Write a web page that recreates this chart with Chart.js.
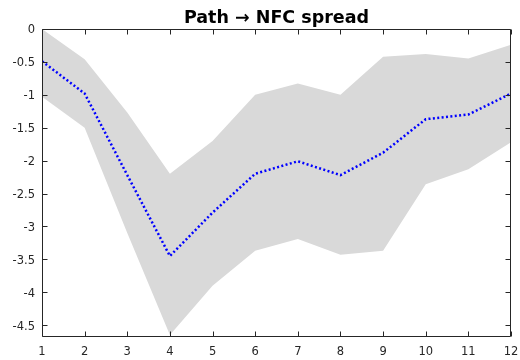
<!DOCTYPE html>
<html>
<head>
<meta charset="utf-8">
<script src="https://cdn.jsdelivr.net/npm/chart.js@4.4.1/dist/chart.umd.min.js"></script>
<style>
  html, body { margin: 0; padding: 0; background: #ffffff; }
  #wrap { width: 520px; height: 360px; }
</style>
</head>
<body>
<div id="wrap"><canvas id="c" width="520" height="360"></canvas></div>
<script>
// Horizon (periods after the shock)
const horizons = [1, 2, 3, 4, 5, 6, 7, 8, 9, 10, 11, 12];
// Median response
const medianResp = [-0.49, -0.98, -2.22, -3.45, -2.79, -2.20, -2.01, -2.22, -1.88, -1.37, -1.30, -0.98];
// Credible band bounds
const upperBand = [0.00, -0.46, -1.27, -2.20, -1.70, -1.00, -0.83, -1.00, -0.42, -0.38, -0.45, -0.24];
const lowerBand = [-1.03, -1.50, -3.10, -4.65, -3.90, -3.37, -3.19, -3.43, -3.37, -2.36, -2.13, -1.72];
// Axis tick labels
const xTickValues = [1, 2, 3, 4, 5, 6, 7, 8, 9, 10, 11, 12];
const yTickValues = [0, -0.5, -1, -1.5, -2, -2.5, -3, -3.5, -4, -4.5];
const chartTitle = 'Path \u2192 NFC spread';

const pts = (ys) => horizons.map((h, i) => ({ x: h, y: ys[i] }));
const AXIS_COLOR = '#262626';
const TICK_FONT = { family: 'DejaVu Sans, Verdana, sans-serif', size: 11.5 };

// Box around the plot area with short inward ticks on every side,
// plus the title centred over the plot area
const frameTicks = {
  id: 'frameTicks',
  afterDraw(chart) {
    const ctx = chart.ctx;
    const a = chart.chartArea;
    const xs = chart.scales.x;
    const ys = chart.scales.y;
    const len = 5;
    const L = Math.round(a.left) + 0.5, R = Math.round(a.right) - 0.5;
    const T = Math.round(a.top) + 0.5, B = Math.round(a.bottom) - 0.5;
    ctx.save();
    ctx.setLineDash([]);
    ctx.strokeStyle = AXIS_COLOR;
    ctx.lineWidth = 1;
    ctx.beginPath();
    ctx.moveTo(L, T); ctx.lineTo(R, T); ctx.lineTo(R, B); ctx.lineTo(L, B); ctx.closePath();
    for (let i = 0; i < xs.ticks.length; i++) {
      const px = Math.round(xs.getPixelForValue(xs.ticks[i].value)) + 0.5;
      ctx.moveTo(px, B); ctx.lineTo(px, B - len);
      ctx.moveTo(px, T); ctx.lineTo(px, T + len);
    }
    for (let i = 0; i < ys.ticks.length; i++) {
      const py = Math.round(ys.getPixelForValue(ys.ticks[i].value)) + 0.5;
      ctx.moveTo(L, py); ctx.lineTo(L + len, py);
      ctx.moveTo(R, py); ctx.lineTo(R - len, py);
    }
    ctx.stroke();

    ctx.fillStyle = '#000000';
    ctx.font = 'bold 17.5px "DejaVu Sans", Verdana, sans-serif';
    ctx.textAlign = 'center';
    ctx.textBaseline = 'alphabetic';
    ctx.fillText(chartTitle, (a.left + a.right) / 2, a.top - 6);
    ctx.restore();
  }
};

new Chart(document.getElementById('c'), {
  type: 'line',
  data: {
    datasets: [
      {
        label: 'median',
        data: pts(medianResp),
        borderColor: '#0000ff',
        borderWidth: 2.5,
        borderDash: [2, 2.4],
        pointRadius: 0,
        fill: false,
        tension: 0
      },
      {
        label: 'upper',
        data: pts(upperBand),
        borderWidth: 0,
        borderColor: 'rgba(0,0,0,0)',
        backgroundColor: '#d9d9d9',
        pointRadius: 0,
        fill: '+1',
        tension: 0
      },
      {
        label: 'lower',
        data: pts(lowerBand),
        borderWidth: 0,
        borderColor: 'rgba(0,0,0,0)',
        backgroundColor: '#d9d9d9',
        pointRadius: 0,
        fill: false,
        tension: 0
      }
    ]
  },
  options: {
    responsive: false,
    animation: false,
    layout: { padding: { left: 0, right: 9, top: 29, bottom: 0 } },
    plugins: {
      legend: { display: false },
      tooltip: { enabled: false },
      title: { display: false }
    },
    scales: {
      x: {
        type: 'linear',
        min: 1,
        max: 12,
        afterBuildTicks: (s) => { s.ticks = xTickValues.map(v => ({ value: v })); },
        afterFit: (s) => { s.height = 23; s.paddingLeft = 0; s.paddingRight = 0; },
        grid: { display: false, drawTicks: false },
        border: { display: false },
        ticks: {
          color: AXIS_COLOR,
          padding: 8,
          maxRotation: 0,
          autoSkip: false,
          font: TICK_FONT
        }
      },
      y: {
        type: 'linear',
        min: -4.68,
        max: 0,
        afterBuildTicks: (s) => { s.ticks = yTickValues.map(v => ({ value: v })); },
        afterFit: (s) => { s.width = 42; s.paddingTop = 0; s.paddingBottom = 0; },
        grid: { display: false, drawTicks: false },
        border: { display: false },
        ticks: {
          color: AXIS_COLOR,
          padding: 7,
          labelOffset: 1.5,
          autoSkip: false,
          font: TICK_FONT,
          callback: (v) => String(Math.round(v * 10) / 10)
        }
      }
    }
  },
  plugins: [frameTicks]
});
</script>
</body>
</html>
